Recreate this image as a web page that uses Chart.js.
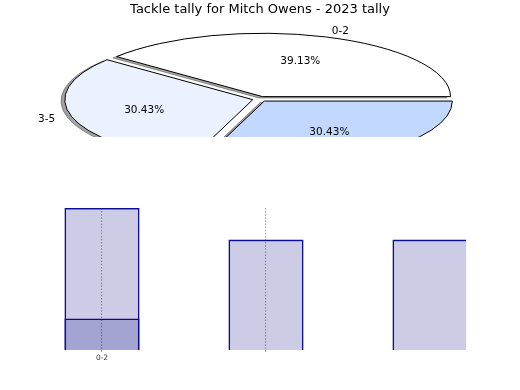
<!DOCTYPE html>
<html>
<head>
<meta charset="utf-8">
<script src="https://cdn.jsdelivr.net/npm/chart.js@4"></script>
<style>
  html, body { margin: 0; padding: 0; background: #ffffff; }
  #wrap { position: relative; width: 520px; height: 390px; overflow: hidden; }
  #barCanvas { position: absolute; left: 0; top: 0; }
  #pieCanvas { position: absolute; left: 0; top: 0; z-index: 2; }
</style>
</head>
<body>
<div id="wrap">
  <canvas id="barCanvas" width="520" height="390"></canvas>
  <canvas id="pieCanvas" width="520" height="137"></canvas>
</div>
<script>
// ---- data ----
const chartTitle = 'Tackle tally for Mitch Owens - 2023 tally';
const categories = ['0-2', '3-5', '6+'];
const tallyCounts = [9, 7, 7];          // games per tackle band (pie + tall bars)
const overlayCounts = [2, null, null];  // second overlapping bar series
const tickLabels = ['0-2', '', ''];
const pieColors = ['#ffffff', '#ebf1fe', '#c3d8fe'];

// ---- pie (squashed, exploded, with shadow) ----
const squash = 0.337;     // vertical / horizontal ratio of the pie
const explodePx = 7.5;    // explode distance
const FONT = '"DejaVu Sans", "Liberation Sans", sans-serif';

// matplotlib draws counter-clockwise from east; Chart.js clockwise -> reverse order
const pieLabels = categories.slice().reverse();
const pieValues = tallyCounts.slice().reverse();
const pieBg = pieColors.slice().reverse();

function shadowColor(hex) {
  const n = parseInt(hex.slice(1), 16);
  const r = Math.round(((n >> 16) & 255) * 0.3);
  const g = Math.round(((n >> 8) & 255) * 0.3);
  const b = Math.round((n & 255) * 0.3);
  return `rgba(${r},${g},${b},0.5)`;
}

const piePlugin = {
  id: 'squashPie',
  beforeDatasetsDraw(chart) {
    const ctx = chart.ctx;
    const meta = chart.getDatasetMeta(0);
    const arcs = meta.data;
    if (!arcs.length) return false;
    const cx = arcs[0].x, cy = arcs[0].y;
    const origStroke = ctx.stroke;
    ctx.stroke = function () {
      this.save();
      this.setTransform(1, 0, 0, 1, 0, 0);
      origStroke.call(this);
      this.restore();
    };
    const drawPass = (isShadow) => {
      arcs.forEach((el) => {
        const mid = (el.startAngle + el.endAngle) / 2;
        ctx.save();
        if (isShadow) ctx.translate(-3.8, 1.3);
        ctx.translate(cx, cy);
        ctx.scale(1, squash);
        ctx.translate(-cx, -cy);
        ctx.translate(Math.cos(mid) * explodePx, Math.sin(mid) * explodePx);
        const fake = Object.create(el);
        const o = Object.assign({}, el.options);
        o.offset = 0;
        if (isShadow) {
          const c = shadowColor(o.backgroundColor);
          o.backgroundColor = c;
          o.borderColor = c;
        }
        fake.options = o;
        fake.draw(ctx);
        ctx.restore();
      });
    };
    drawPass(true);
    drawPass(false);
    ctx.stroke = origStroke;
    return false;
  },
  afterDraw(chart) {
    const ctx = chart.ctx;
    const meta = chart.getDatasetMeta(0);
    const arcs = meta.data;
    const values = chart.data.datasets[0].data;
    const labels = chart.data.labels;
    const total = values.reduce((a, b) => a + b, 0);
    ctx.save();
    ctx.fillStyle = '#000000';
    ctx.font = '13px ' + FONT;
    ctx.textAlign = 'center';
    ctx.textBaseline = 'middle';
    ctx.fillText(chartTitle, chart.width / 2, 10);
    ctx.font = '10.5px ' + FONT;
    arcs.forEach((el, i) => {
      const cx = el.x, cy = el.y, R = el.outerRadius;
      const mid = (el.startAngle + el.endAngle) / 2;
      const dx = Math.cos(mid), dy = Math.sin(mid);
      const lx = cx + (explodePx + 1.1 * R) * dx;
      const ly = cy + (explodePx + 1.1 * R) * dy * squash;
      ctx.textAlign = dx > 0 ? 'left' : 'right';
      ctx.fillText(labels[i], lx + (dx > 0 ? 0 : 1.5), ly + 0.7);
      const px = cx + (explodePx + 0.6 * R) * dx;
      const py = cy + (explodePx + 0.6 * R) * dy * squash;
      ctx.textAlign = 'center';
      ctx.fillText((values[i] / total * 100).toFixed(2) + '%', px, py);
    });
    ctx.restore();
  }
};

new Chart(document.getElementById('pieCanvas'), {
  type: 'pie',
  data: {
    labels: pieLabels,
    datasets: [{
      data: pieValues,
      backgroundColor: pieBg,
      borderColor: '#000000',
      borderWidth: 1,
      borderJoinStyle: 'miter',
      clip: false
    }]
  },
  options: {
    responsive: false,
    devicePixelRatio: 1,
    animation: false,
    events: [],
    rotation: 90,
    radius: 188,
    layout: { padding: { top: 61, bottom: 0, left: 0, right: 0 } },
    plugins: { legend: { display: false }, tooltip: { enabled: false }, title: { display: false } }
  },
  plugins: [piePlugin]
});

// ---- bars ----
const barFill = 'rgba(0,0,128,0.2)';
const barEdge = '#0c0c98';
const gridCol = (c) => (c.index < 2 ? 'rgba(100,100,100,0.6)' : 'rgba(0,0,0,0)');

new Chart(document.getElementById('barCanvas'), {
  type: 'bar',
  data: {
    labels: categories,
    datasets: [
      { data: tallyCounts, backgroundColor: barFill, borderColor: barEdge, borderWidth: 1.6,
        grouped: false, categoryPercentage: 0.458, barPercentage: 1,
        clip: { left: 60, right: 36.0, top: 4, bottom: 0 } },
      { data: overlayCounts, backgroundColor: barFill, borderColor: barEdge, borderWidth: 1.6,
        grouped: false, categoryPercentage: 0.458, barPercentage: 1,
        clip: { left: 60, right: 36.0, top: 4, bottom: 0 } }
    ]
  },
  options: {
    responsive: false,
    devicePixelRatio: 1,
    animation: false,
    events: [],
    layout: { padding: { top: 208, left: 102, right: 90, bottom: 0 } },
    plugins: { legend: { display: false }, tooltip: { enabled: false }, title: { display: false } },
    scales: {
      x: {
        offset: false,
        z: 1,
        border: { display: false, dash: [1.5, 1.6] },
        grid: {
          display: true,
          offset: false,
          drawOnChartArea: true,
          drawTicks: true,
          tickLength: 2,
          color: gridCol,
          tickColor: gridCol,
          lineWidth: 1.1,
          tickBorderDash: []
        },
        ticks: {
          autoSkip: false,
          maxRotation: 0,
          padding: 2,
          color: '#333333',
          font: { family: FONT, size: 7.5 },
          callback: (v, i) => tickLabels[i]
        },
        afterFit: (scale) => { scale.height = 40; }
      },
      y: {
        display: false,
        min: 0,
        max: 9
      }
    }
  }
});
</script>
</body>
</html>
